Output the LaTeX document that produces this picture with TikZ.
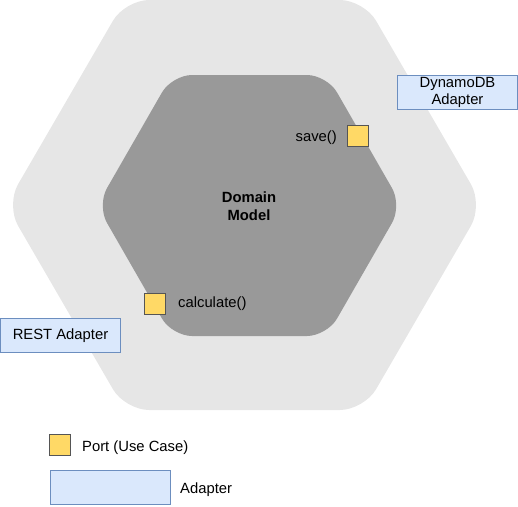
\documentclass[tikz,border=0pt]{standalone}
\usepackage{fontspec}
\setmainfont{Liberation Sans}
\definecolor{outerhex}{HTML}{E6E6E6}
\definecolor{innerhex}{HTML}{999999}
\definecolor{portfill}{HTML}{FFD966}
\definecolor{portline}{HTML}{555555}
\definecolor{adfill}{HTML}{DAE8FC}
\definecolor{adline}{HTML}{6C8EBF}
\tikzset{
  portbox/.style={draw=portline, fill=portfill, line width=1pt, minimum width=21pt, minimum height=21pt, inner sep=0pt, outer sep=0pt},
  adapterbox/.style={draw=adline, fill=adfill, line width=1pt, minimum width=120pt, minimum height=34pt, inner sep=0pt, outer sep=0pt, align=center, font=\fontsize{14.8pt}{17.5pt}\selectfont},
  lbl/.style={inner sep=0pt, font=\fontsize{14.8pt}{17.5pt}\selectfont},
}
\begin{document}
\begin{tikzpicture}[x=1pt,y=-1pt]
\useasboundingbox (0,0) rectangle (518,506);
% outer hexagon
\fill[outerhex, rounded corners=24pt] (125,0) -- (364,0) -- (483,205) -- (364,410) -- (125,410) -- (6,205) -- cycle;
% inner hexagon
\fill[innerhex, rounded corners=20pt] (172,75) -- (327,75) -- (402,205.5) -- (327,336) -- (172,336) -- (97,205.5) -- cycle;
\node[lbl, align=center, font=\fontsize{14.8pt}{18pt}\selectfont\bfseries] (domain) at (249,206) {Domain\\Model};
% ports
\node[portbox] (save) at (357.5,135.5) {};
\node[lbl, anchor=east] (savelbl) at (337,137.5) {save()};
\node[portbox] (calc) at (155,303.5) {};
\node[lbl, anchor=west] (calclbl) at (178,303.5) {calculate()};
% adapters
\node[adapterbox] (dynamo) at (457.5,92.5) {DynamoDB\\Adapter};
\node[adapterbox] (rest) at (60.5,335.5) {REST Adapter};
% legend
\node[portbox] (legport) at (60,445) {};
\node[lbl, anchor=west] (legportlbl) at (82,447.5) {Port (Use Case)};
\node[adapterbox] (legad) at (110.5,487.5) {};
\node[lbl, anchor=west] (legadlbl) at (180,490) {Adapter};
\end{tikzpicture}
\end{document}
